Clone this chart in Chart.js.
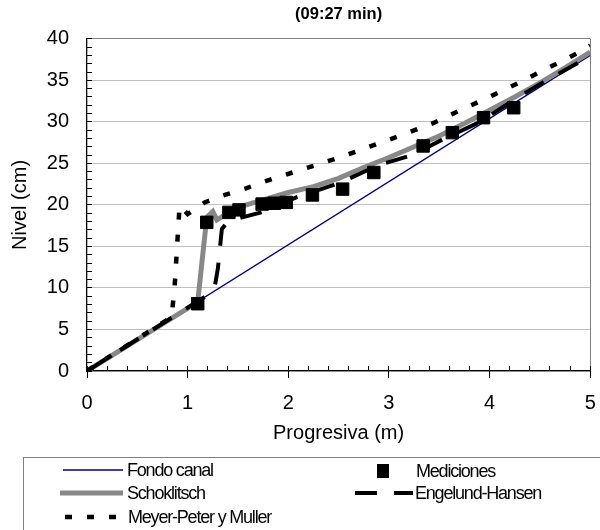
<!DOCTYPE html>
<html>
<head>
<meta charset="utf-8">
<script src="https://cdn.jsdelivr.net/npm/chart.js@4.4.1/dist/chart.umd.min.js"></script>
<style>
  body { margin: 0; background: #fff; }
  #wrap { position: relative; width: 600px; height: 530px; overflow: hidden; }
  #legendBox { position: absolute; left: 23px; top: 457px; width: 640px; height: 120px; border: 1px solid #808080; }
  .lbl { position: absolute; font: 18px "Liberation Sans", Arial, sans-serif; letter-spacing: -1.2px; line-height: 22px; color: #000; white-space: nowrap; }
  .sw { position: absolute; }
</style>
</head>
<body>
<div id="wrap">
  <canvas id="chart" width="600" height="530"></canvas>
  <div id="legendBox"></div>
</div>
<script>
// tick labels
const xLabels = [0, 1, 2, 3, 4, 5];
const yLabels = [0, 5, 10, 15, 20, 25, 30, 35, 40];

// Fondo canal (channel bed)
const fondoX = [0, 5];
const fondoY = [0, 38];

// Mediciones (measured levels)
const medX = [1.10, 1.19, 1.41, 1.51, 1.74, 1.86, 1.98, 2.24, 2.54, 2.85, 3.34, 3.63, 3.94, 4.24];
const medY = [8.1, 17.9, 19.1, 19.4, 20.1, 20.2, 20.3, 21.2, 21.9, 23.9, 27.1, 28.7, 30.5, 31.7];

// Schoklitsch
const schX = [0, 1.10, 1.19, 1.25, 1.29, 1.40, 1.50, 1.75, 2.00, 2.25, 2.50, 2.75, 3.00, 3.25, 3.50, 3.75, 4.00, 4.25, 4.50, 4.75, 5.00];
const schY = [0, 8.3, 18.5, 19.2, 18.2, 19.0, 19.7, 20.6, 21.5, 22.2, 23.2, 24.5, 25.7, 27.0, 28.3, 29.8, 31.4, 33.0, 34.7, 36.5, 38.4];

// Engelund-Hansen
const ehX = [0, 1.22, 1.27, 1.30, 1.34, 1.38, 1.48, 1.73, 1.86, 2.10, 2.50, 2.90, 3.23, 3.52, 3.89, 4.29, 4.61, 5.00];
const ehY = [0, 9.3, 10.2, 12.3, 17.1, 17.7, 18.3, 19.1, 19.8, 21.0, 22.6, 24.8, 26.0, 27.8, 29.9, 33.0, 35.3, 37.9];

// Meyer-Peter y Muller
const mpmX = [0, 0.84, 0.87, 0.89, 0.92, 1.00, 1.17, 1.37, 1.58, 1.76, 1.94, 2.25, 2.53, 2.85, 3.15, 3.45, 3.71, 4.00, 4.29, 4.60, 4.88, 5.00];
const mpmY = [0, 6.5, 10.0, 14.0, 19.9, 18.9, 20.3, 21.2, 22.0, 22.8, 23.5, 24.7, 25.8, 27.2, 28.5, 29.9, 31.4, 33.0, 34.7, 36.6, 38.3, 39.2];

const pts = (xs, ys) => xs.map((x, i) => ({ x: x, y: ys[i] }));
const near = (v, list) => list.some(t => Math.abs(v - t) < 1e-6);

const FONT = '"Liberation Sans", Arial, sans-serif';
Chart.defaults.font.family = FONT;
Chart.defaults.color = '#000';

const datasets = [
  { label: 'Mediciones', data: pts(medX, medY), showLine: false, pointStyle: 'rect',
    pointRadius: 8.8, backgroundColor: '#000', borderColor: '#000', borderWidth: 1, order: 0 },
  { label: 'Engelund-Hansen', data: pts(ehX, ehY), borderColor: '#000', borderWidth: 4,
    borderDash: [22, 17], order: 1 },
  { label: 'Meyer-Peter y Muller', data: pts(mpmX, mpmY), borderColor: '#000', borderWidth: 4.5,
    borderDash: [7, 15], order: 2 },
  { label: 'Schoklitsch', data: pts(schX, schY), borderColor: '#888888', borderWidth: 5, order: 3 },
  { label: 'Fondo canal', data: pts(fondoX, fondoY), borderColor: '#000080', borderWidth: 1.3, order: 4 }
];
datasets.forEach(d => {
  if (d.showLine === undefined) {
    d.showLine = true;
    d.pointRadius = 0;
    d.fill = false;
    d.tension = 0;
    d.borderCapStyle = 'butt';
  }
  d.xAxisID = 'x';
  d.yAxisID = 'y';
});

// outer half of the major ticks (they cross the axis line)
const majorTicks = (min, max, step, pos, weight) => ({
  type: 'linear', min: min, max: max, position: pos, weight: weight,
  afterFit: s => {
    if (s.isHorizontal()) s.height = 0; else s.width = 0;
    s.paddingLeft = s.paddingRight = s.paddingTop = s.paddingBottom = 0;
  },
  border: { display: false },
  grid: { drawOnChartArea: false, tickColor: '#000', tickLength: 7, lineWidth: 1 },
  ticks: { stepSize: step, autoSkip: false, display: false }
});

const chart = new Chart(document.getElementById('chart'), {
  type: 'scatter',
  data: { datasets: datasets },
  options: {
    responsive: false,
    animation: false,
    layout: { padding: { left: 0, right: 8, top: 0, bottom: 75 } },
    plugins: {
      legend: { display: false },
      tooltip: { enabled: false },
      title: {
        display: true,
        text: '(09:27 min)',
        fullSize: false,
        font: { size: 16.5, weight: 'bold', family: FONT },
        color: '#000',
        padding: { top: 5, bottom: 14 }
      }
    },
    scales: {
      x: {
        type: 'linear',
        min: 0, max: 5,
        // fixed axis height, no extra side padding for the end labels
        afterFit: s => { s.height = 84; s.paddingLeft = 0; s.paddingRight = 0; },
        border: { color: '#000', width: 1.3 },
        grid: {
          color: c => (c.tick && Math.abs(c.tick.value - 5) < 1e-6) ? '#808080' : 'rgba(0,0,0,0)',
          tickColor: '#000',
          tickLength: -5,
          lineWidth: 1
        },
        ticks: {
          stepSize: 0.2,
          autoSkip: false,
          maxRotation: 0,
          padding: 25,
          font: { size: 20 },
          callback: v => near(v, xLabels) ? String(Math.round(v)) : ''
        },
        title: {
          display: true,
          text: 'Progresiva (m)',
          font: { size: 20 },
          padding: { top: 0, bottom: 10 }
        }
      },
      y: {
        type: 'linear',
        min: 0, max: 40,
        afterFit: s => { s.width = 87; s.paddingTop = 0; s.paddingBottom = 0; },
        border: { color: '#000', width: 1.3 },
        grid: {
          color: c => {
            if (!c.tick) return 'rgba(0,0,0,0)';
            const v = c.tick.value;
            if (Math.abs(v - 40) < 1e-6) return '#808080';
            return near(v, yLabels) ? '#c0c0c0' : 'rgba(0,0,0,0)';
          },
          tickColor: '#000',
          tickLength: -5,
          lineWidth: 1
        },
        ticks: {
          stepSize: 1,
          autoSkip: false,
          padding: 23,
          font: { size: 20 },
          callback: v => near(v, yLabels) ? String(Math.round(v)) : ''
        },
        title: {
          display: true,
          text: 'Nivel (cm)',
          font: { size: 20 },
          padding: { top: 8, bottom: 0 }
        }
      },
      xMajor: majorTicks(0, 5, 1, 'bottom', -1),
      yMajor: majorTicks(0, 40, 5, 'left', 1)
    }
  }
});

// legend (two columns, drawn from the dataset styles)
const wrap = document.getElementById('wrap');
const legendItems = [
  { label: 'Fondo canal', sx: 63, sw: 60, tx: 127, cy: 470 },
  { label: 'Schoklitsch', sx: 60, sw: 63, tx: 127, cy: 493 },
  { label: 'Meyer-Peter y Muller', sx: 65, sw: 52, tx: 128, cy: 516.5 },
  { label: 'Mediciones', sx: 376, sw: 14, tx: 416, cy: 471 },
  { label: 'Engelund-Hansen', sx: 355, sw: 58, tx: 415, cy: 493 }
];
legendItems.forEach(it => {
  const ds = datasets.find(d => d.label === it.label);
  const cv = document.createElement('canvas');
  cv.className = 'sw';
  cv.width = it.sw; cv.height = 16;
  cv.style.left = it.sx + 'px';
  cv.style.top = (it.cy - 8) + 'px';
  const g = cv.getContext('2d');
  if (ds.showLine) {
    g.strokeStyle = ds.borderColor;
    g.lineWidth = ds.borderWidth;
    g.setLineDash(ds.borderDash || []);
    g.beginPath();
    g.moveTo(0, 8); g.lineTo(it.sw, 8);
    g.stroke();
  } else {
    g.fillStyle = ds.backgroundColor;
    g.fillRect(1, 1, 12, 14);
  }
  wrap.appendChild(cv);
  const t = document.createElement('div');
  t.className = 'lbl';
  t.textContent = it.label;
  t.style.left = it.tx + 'px';
  t.style.top = (it.cy - 11) + 'px';
  wrap.appendChild(t);
});
</script>
</body>
</html>
